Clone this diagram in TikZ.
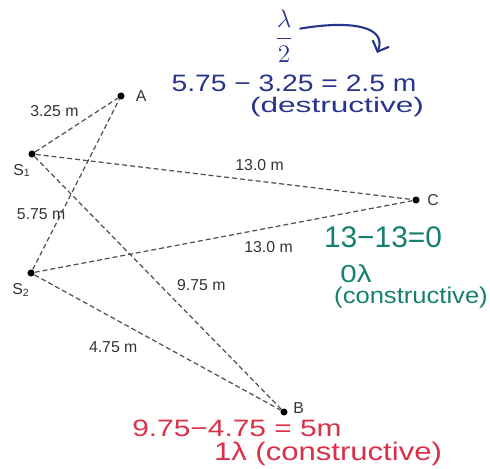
\documentclass[tikz,border=0pt]{standalone}
\usepackage{fontspec}
\setmainfont{Liberation Sans}
\usetikzlibrary{arrows.meta}

\definecolor{inkblue}{RGB}{40,52,140}
\definecolor{inkgreen}{RGB}{22,128,112}
\definecolor{inkred}{RGB}{218,48,72}
\definecolor{raygray}{RGB}{80,80,80}

% handwriting is wide and low
\newcommand{\scrawl}[2]{\scalebox{#1}[1]{#2}}

\begin{document}
\begin{tikzpicture}[x=0.02cm,
            y=-0.02cm,
            dot/.style={circle, fill=black, inner sep=0pt, minimum size=4pt},
            ray/.style={draw=raygray, dash pattern=on 2.8pt off 1.7pt, line width=0.7pt},
            dist/.style={font=\fontsize{9}{10}\selectfont, text=black!80, inner sep=1pt},
            hand/.style={font=\fontsize{#1}{#1}\selectfont, inner sep=0pt}]

        \useasboundingbox (0,0) rectangle (490,469);

        % sources and listening points
        \node[dot, label={[dist, label distance=5pt]right:A}]                      (A)  at (121,96)  {};
        \node[dot, label={[dist, xshift=2pt, yshift=-3pt]below left:S\textsubscript{1}}] (S1) at (32,154)  {};
        \node[dot, label={[dist, xshift=2pt, yshift=-3pt]below left:S\textsubscript{2}}] (S2) at (31,273)  {};
        \node[dot, label={[dist, label distance=3pt]right:C}]                      (C)  at (416,200) {};
        \node[dot, label={[dist, label distance=3pt, yshift=2.5pt, inner sep=0pt]right:B}] (B) at (284,412) {};

        \path (S1) edge[ray] node[dist, pos=.39, xshift=-7.4pt, yshift=11.4pt] {3.25 m} (A)
                   edge[ray] node[dist, pos=.59, xshift=1pt,    yshift=9pt]    {13.0 m} (C)
                   edge[ray] node[dist, pos=.59, xshift=12pt,   yshift=12pt]   {9.75 m} (B)
              (S2) edge[ray] node[dist, pos=.28, xshift=-9pt,   yshift=4.6pt]  {5.75 m} (A)
                   edge[ray] node[dist, pos=.61, xshift=2pt,    yshift=-10.4pt]{13.0 m} (C)
                   edge[ray] node[dist, pos=.37, xshift=-7pt,   yshift=-12.9pt]{4.75 m} (B);

        % handwritten notes
        \node[text=inkblue, font=\fontsize{14}{16}\selectfont] (half) at (284,36) {$\displaystyle\frac{\lambda}{2}$};
        \coordinate (bend) at (377,53);
        \draw[inkblue, line width=1.2pt, -{Straight Barb[length=5pt, width=10pt]}]
            (half.25) .. controls (350,20) and (388,26) .. (bend);
        \node[hand=13.5, text=inkblue] (blueeq)  at (294,83)  {\scrawl{1.19}{5.75 − 3.25 = 2.5 m}};
        \node[hand=12,   text=inkblue] (bluetag) at (337,107) {\scrawl{1.5}{(destructive)}};

        \node[hand=17,   text=inkgreen] (greeneq)  at (383,237) {\scrawl{1.0}{13−13=0}};
        \node[hand=14,   text=inkgreen] (greenlam) at (356,274) {\scrawl{1.2}{0λ}};
        \node[hand=13,   text=inkgreen] (greentag) at (411,298) {\scrawl{1.12}{(constructive)}};

        \node[hand=13.5, text=inkred] (redeq)  at (237,428) {\scrawl{1.26}{9.75−4.75 = 5m}};
        \node[hand=14.5, text=inkred] (redtag) at (328,454) {\scrawl{1.22}{1λ (constructive)}};

\end{tikzpicture}
\end{document}
